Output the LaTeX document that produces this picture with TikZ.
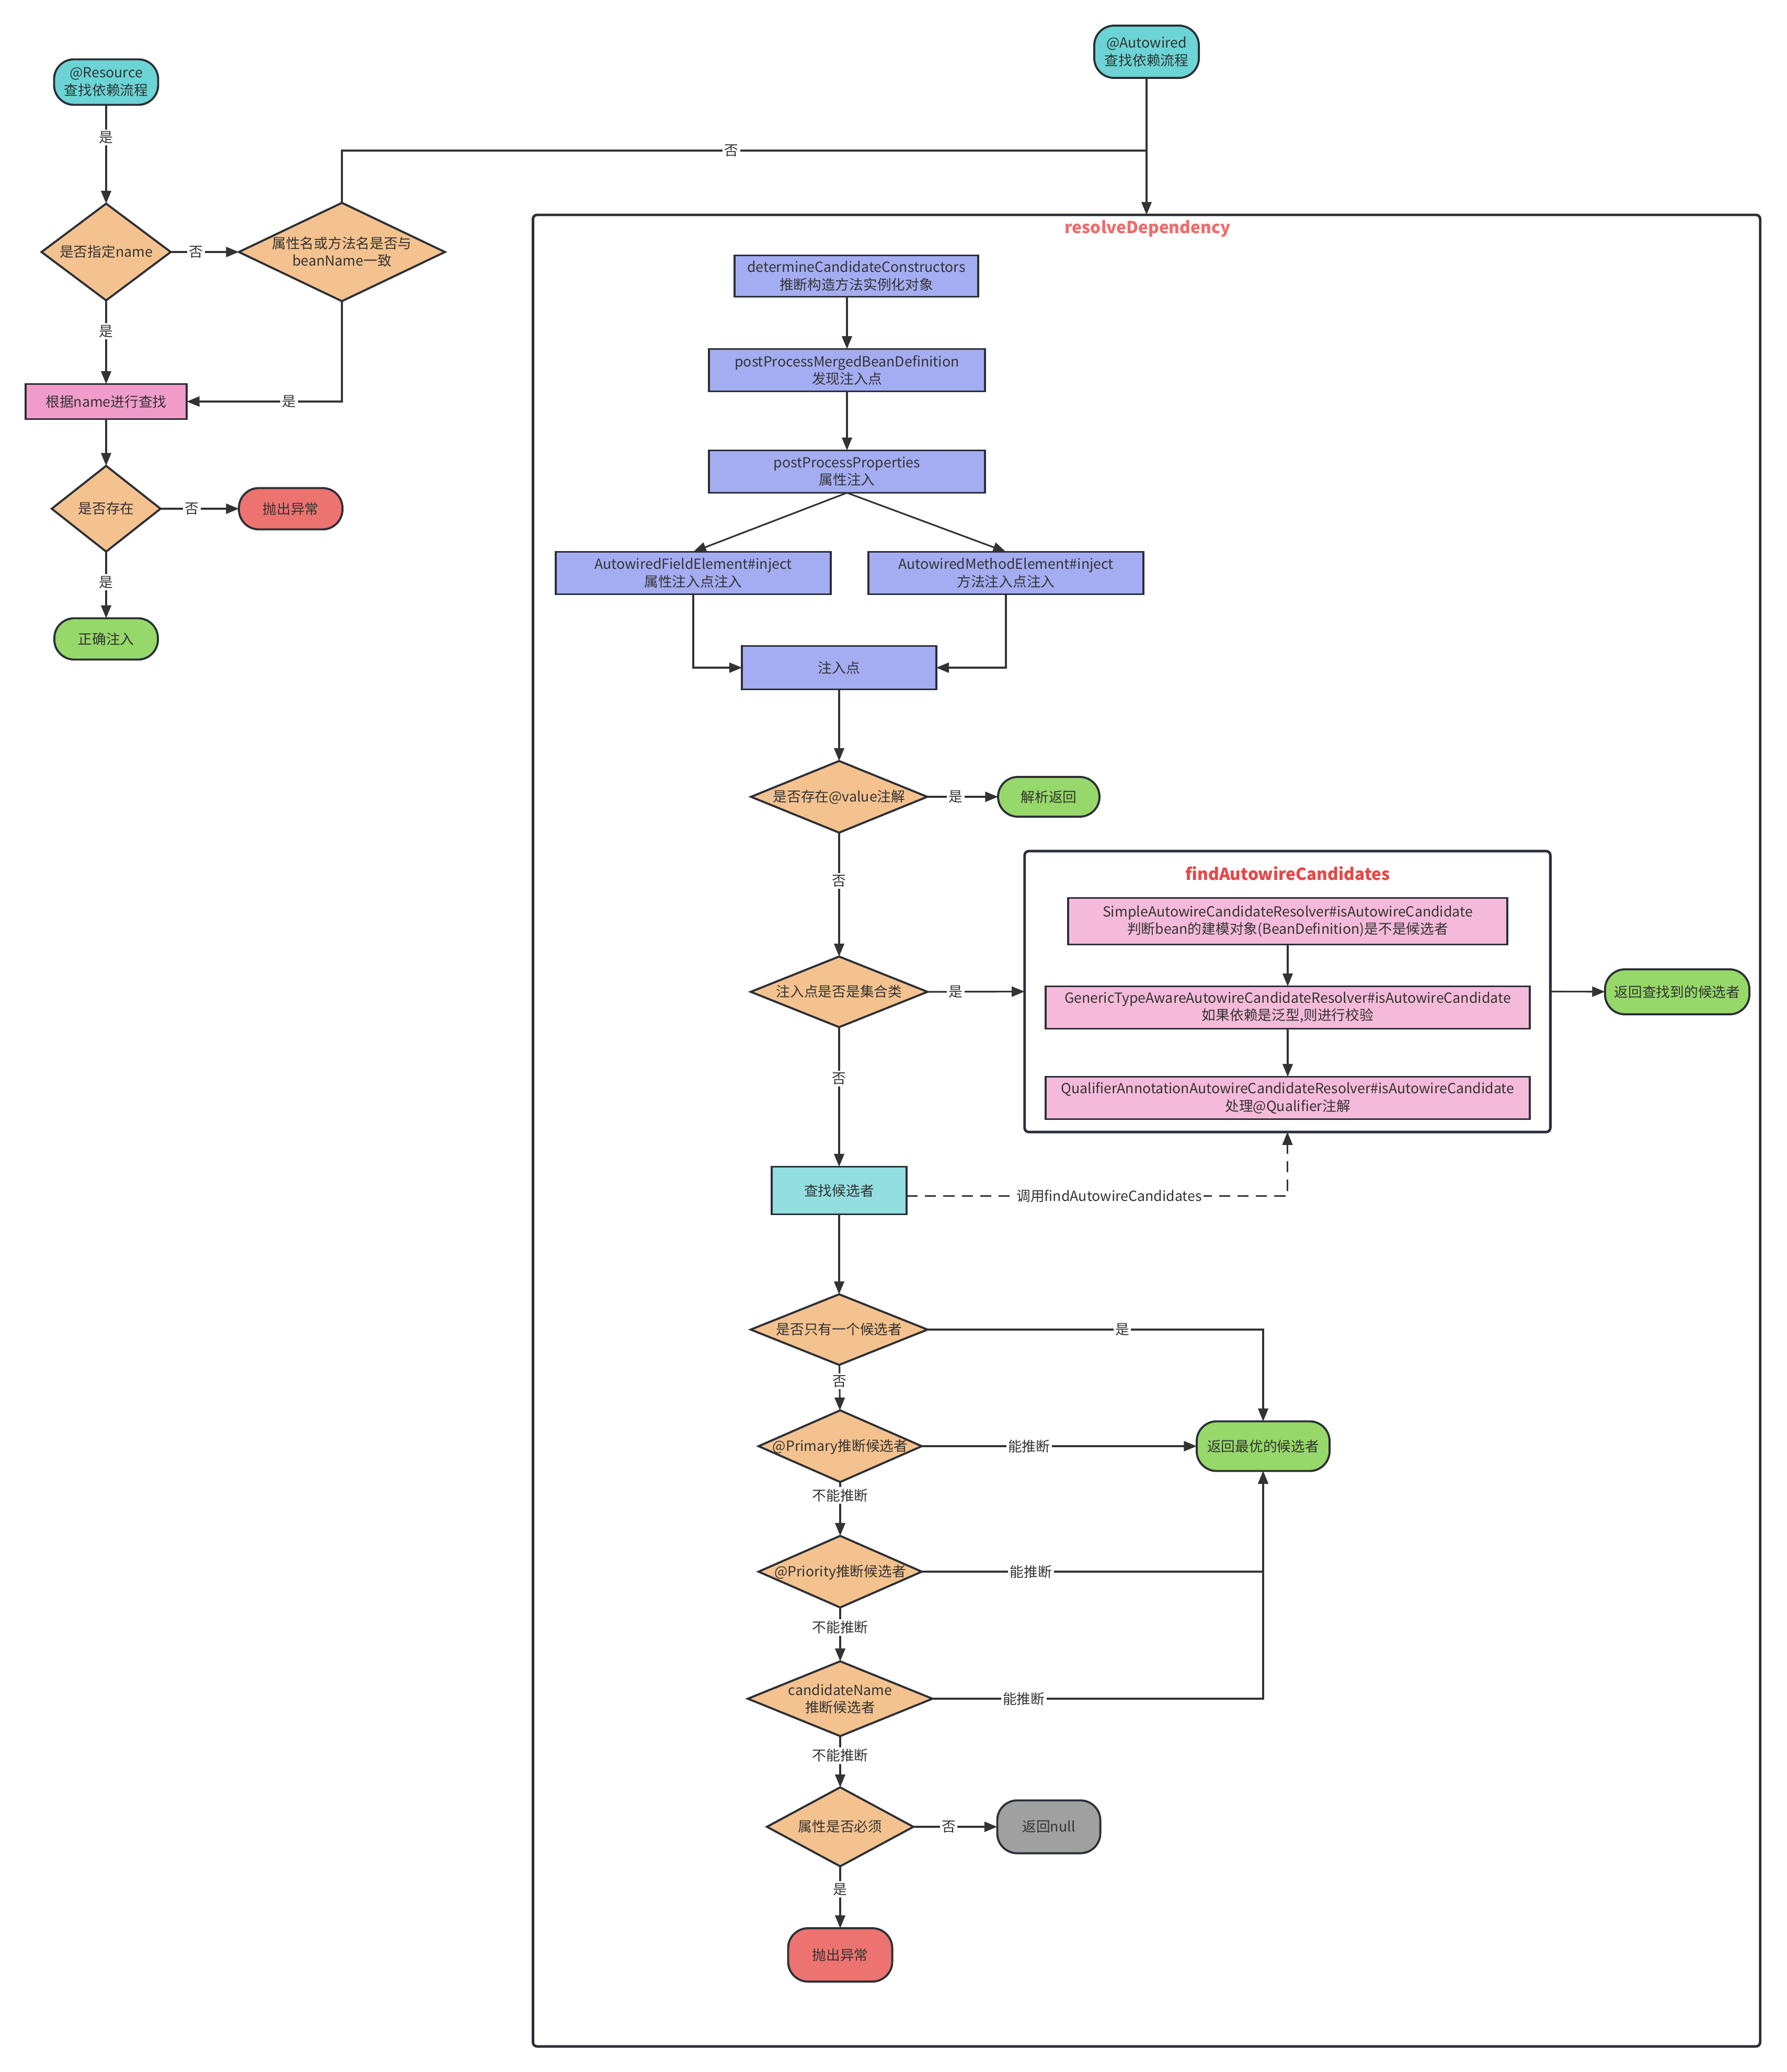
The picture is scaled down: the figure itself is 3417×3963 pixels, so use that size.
\documentclass[tikz,border=0pt]{standalone}
\usepackage{fontspec}
\setmainfont{Noto Sans CJK SC}
\usetikzlibrary{shapes.geometric,arrows.meta,calc}
\definecolor{txt}{HTML}{333333}
\definecolor{bd}{HTML}{2B2F36}
\definecolor{ln}{HTML}{333333}
\definecolor{cteal}{HTML}{6CD4D5}
\definecolor{cdia}{HTML}{F4C28F}
\definecolor{cblue}{HTML}{A4ADF2}
\definecolor{cpinka}{HTML}{F19CCA}
\definecolor{cpinkb}{HTML}{F5BADA}
\definecolor{cgreen}{HTML}{96D869}
\definecolor{cred}{HTML}{EC7370}
\definecolor{cgrey}{HTML}{A0A0A0}
\definecolor{ccyan}{HTML}{93DEE0}
\definecolor{ttla}{HTML}{EF6B6B}
\definecolor{ttlb}{HTML}{E84646}
\newcommand{\dtext}[1]{\smash{\makebox[0pt]{\raisebox{-2.9pt}{\begin{tabular}{@{}c@{}}#1\end{tabular}}}}}
\begin{document}
\begin{tikzpicture}[x=0.01cm, y=-0.01cm,
  every node/.style={font=\fontsize{7.6}{9.5}\selectfont, text=txt},
  shp/.style={draw=bd, line width=1.1pt, inner sep=0pt, outer sep=0pt, align=center},
  term/.style={shp, rounded corners=0.38cm},
  dia/.style={shp, diamond, fill=cdia},
  proc/.style={shp, rectangle},
  frame/.style={draw=bd, line width=1.4pt, rounded corners=0.08cm, inner sep=0pt, outer sep=0pt},
  conn/.style={draw=ln, line width=0.9pt},
  arr/.style={conn, -{Triangle[length=7pt,width=5.5pt]}},
  lbl/.style={fill=white, inner sep=1pt, text=txt},
  ttl/.style={font=\fontsize{9}{11}\selectfont\bfseries, inner sep=0pt},
]
\useasboundingbox (0,0) rectangle (3417,3963);
\fill[white] (0,0) rectangle (3417,3963);

% ---------- left flow (@Resource) ----------
\node[term, fill=cteal, minimum width=1.99cm, minimum height=0.87cm] (res) at (203,157) {@Resource\\查找依赖流程};
\node[dia, minimum width=2.47cm, minimum height=1.85cm] (d1) at (203,482) {\dtext{是否指定name}};
\node[dia, minimum width=3.94cm, minimum height=1.88cm] (d2) at (654,482) {\dtext{属性名或方法名是否与\\beanName一致}};
\node[proc, fill=cpinka, minimum width=3.08cm, minimum height=0.67cm] (r1) at (203,768) {根据name进行查找};
\node[dia, minimum width=2.08cm, minimum height=1.64cm] (d3) at (203,973) {\dtext{是否存在}};
\node[term, fill=cred, minimum width=1.98cm, minimum height=0.79cm] (e1) at (556,973) {抛出异常};
\node[term, fill=cgreen, minimum width=1.98cm, minimum height=0.79cm] (ok) at (203,1222) {正确注入};

% ---------- @Autowired ----------
\node[term, fill=cteal, minimum width=2.00cm, minimum height=1.00cm] (auto) at (2193,99) {@Autowired\\查找依赖流程};

% ---------- resolveDependency container ----------
\node[frame, minimum width=23.46cm, minimum height=35.01cm] (rd) at (2193,2162.5) {};
\node[ttl, text=ttla] (rdt) at (2195,437) {resolveDependency};

\node[proc, fill=cblue, minimum width=4.66cm, minimum height=0.79cm] (det) at (1638,528) {determineCandidateConstructors\\推断构造方法实例化对象};
\node[proc, fill=cblue, minimum width=5.27cm, minimum height=0.81cm] (pm) at (1620,708) {postProcessMergedBeanDefinition\\发现注入点};
\node[proc, fill=cblue, minimum width=5.27cm, minimum height=0.81cm] (pp) at (1620,902) {postProcessProperties\\属性注入};
\node[proc, fill=cblue, minimum width=5.26cm, minimum height=0.81cm] (afe) at (1326,1096) {AutowiredFieldElement\#inject\\属性注入点注入};
\node[proc, fill=cblue, minimum width=5.26cm, minimum height=0.81cm] (ame) at (1924,1096) {AutowiredMethodElement\#inject\\方法注入点注入};
\node[proc, fill=cblue, minimum width=3.71cm, minimum height=0.83cm] (inj) at (1605,1277) {注入点};
\node[dia, minimum width=3.37cm, minimum height=1.37cm] (v1) at (1605,1524) {\dtext{是否存在@value注解}};
\node[term, fill=cgreen, minimum width=1.94cm, minimum height=0.76cm] (parse) at (2006,1524) {解析返回};
\node[dia, minimum width=3.38cm, minimum height=1.35cm] (coll) at (1605,1897) {\dtext{注入点是否是集合类}};

% findAutowireCandidates container
\node[frame, minimum width=10.05cm, minimum height=5.37cm] (fac) at (2462.5,1896.5) {};
\node[ttl, text=ttlb] (fact) at (2463,1671) {findAutowireCandidates};
\node[proc, fill=cpinkb, minimum width=8.40cm, minimum height=0.89cm] (simple) at (2463,1762) {SimpleAutowireCandidateResolver\#isAutowireCandidate\\判断bean的建模对象(BeanDefinition)是不是候选者};
\node[proc, fill=cpinkb, minimum width=9.26cm, minimum height=0.81cm] (generic) at (2463,1927) {GenericTypeAwareAutowireCandidateResolver\#isAutowireCandidate\\如果依赖是泛型,则进行校验};
\node[proc, fill=cpinkb, minimum width=9.26cm, minimum height=0.81cm] (qual) at (2463,2100) {QualifierAnnotationAutowireCandidateResolver\#isAutowireCandidate\\处理@Qualifier注解};
\node[term, fill=cgreen, minimum width=2.76cm, minimum height=0.86cm] (ret1) at (3208,1897) {返回查找到的候选者};

\node[proc, fill=ccyan, minimum width=2.58cm, minimum height=0.91cm] (find) at (1605,2277) {查找候选者};
\node[dia, minimum width=3.38cm, minimum height=1.35cm] (one) at (1605,2543) {\dtext{是否只有一个候选者}};
\node[term, fill=cgreen, minimum width=2.54cm, minimum height=0.95cm] (best) at (2416,2766) {返回最优的候选者};
\node[dia, minimum width=3.12cm, minimum height=1.37cm] (prim) at (1607,2766) {\dtext{@Primary推断候选者}};
\node[dia, minimum width=3.12cm, minimum height=1.37cm] (prio) at (1607,3006) {\dtext{@Priority推断候选者}};
\node[dia, minimum width=3.53cm, minimum height=1.43cm] (cname) at (1607,3249) {\dtext{candidateName\\推断候选者}};
\node[dia, minimum width=2.80cm, minimum height=1.51cm] (req) at (1607,3494) {\dtext{属性是否必须}};
\node[term, fill=cgrey, minimum width=1.97cm, minimum height=1.01cm] (null) at (2006,3494) {返回null};
\node[term, fill=cred, minimum width=1.99cm, minimum height=1.02cm] (err2) at (1607,3739) {抛出异常};

% ---------- connectors: left ----------
\draw[arr] (res) -- node[lbl,pos=0.33]{是} (d1);
\draw[arr] (d1) -- node[lbl,pos=0.37]{否} (d2);
\draw[arr] (d1) -- node[lbl,pos=0.37]{是} (r1);
\draw[arr] (d2.south) |- node[lbl,pos=0.67]{是} (r1.east);
\coordinate (cj) at (2193,288);
\draw[conn] (d2.north) |- node[lbl,pos=0.742]{否} (cj);
\draw[arr] (auto) -- (rd.north);
\draw[arr] (r1) -- (d3);
\draw[arr] (d3) -- node[lbl,pos=0.4]{否} (e1);
\draw[arr] (d3) -- node[lbl,pos=0.46]{是} (ok);

% ---------- connectors: resolveDependency ----------
\draw[arr] (det.south -| pm) -- (pm);
\draw[arr] (pm) -- (pp);
\draw[arr] (pp.south) -- (afe.north);
\draw[arr] (pp.south) -- (ame.north);
\draw[arr] (afe.south) |- (inj.west);
\draw[arr] (ame.south) |- (inj.east);
\draw[arr] (inj) -- (v1);
\draw[arr] (v1) -- node[lbl,pos=0.4]{是} (parse);
\draw[arr] (v1) -- node[lbl,pos=0.39]{否} (coll);
\draw[arr] (coll.east) -- node[lbl,pos=0.29]{是} (fac.west);
\draw[arr] (coll) -- node[lbl,pos=0.37]{否} (find);
\draw[arr] (simple) -- (generic);
\draw[arr] (generic) -- (qual);
\draw[arr] (fac.east) -- (ret1);
\draw[arr, dash pattern=on 6pt off 4pt] ([yshift=-3pt]find.east) -| node[lbl,pos=0.266]{调用findAutowireCandidates} (fac.south);
\draw[arr] (find) -- (one);
\draw[arr] (one.east) -| node[lbl,pos=0.29]{是} (best.north);
\draw[arr] (one) -- node[lbl,pos=0.36]{否} (prim);
\draw[arr] (prim) -- node[lbl,pos=0.39]{能推断} (best);
\draw[arr] (prim) -- node[lbl,pos=0.25]{不能推断} (prio);
\draw[arr] (prio.east) -| node[lbl,pos=0.16]{能推断} (best.south);
\draw[arr] (prio) -- node[lbl,pos=0.37]{不能推断} (cname);
\draw[arr] (cname.east) -| node[lbl,pos=0.138]{能推断} (best.south);
\draw[arr] (cname) -- node[lbl,pos=0.38]{不能推断} (req);
\draw[arr] (req) -- node[lbl,pos=0.42]{否} (null);
\draw[arr] (req) -- node[lbl,pos=0.37]{是} (err2);
\end{tikzpicture}
\end{document}
